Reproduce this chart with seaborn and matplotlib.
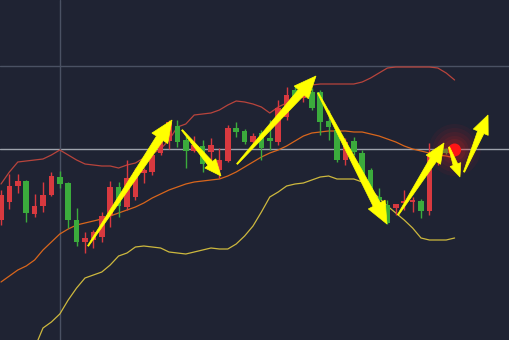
import numpy as np
import pandas as pd
import matplotlib
matplotlib.use("Agg")
import matplotlib.pyplot as plt
from matplotlib.patches import Polygon, Circle
from matplotlib.transforms import IdentityTransform
import seaborn as sns

# ---------------- data ----------------
opens = [120, 138, 154, 159, 126, 134, 145, 163, 157, 120, 98, 100, 103, 125, 153, 133, 143, 167,
         168, 187, 199, 214, 200, 189, 194, 188, 170, 179, 212, 209, 198, 207, 202, 198, 223, 250,
         242, 248, 248, 219, 210, 180, 199, 187, 170, 143, 135, 132, 137, 138, 139, 129, 178, 191]
closes = [145, 154, 159, 127, 134, 145, 164, 156, 120, 98, 102, 108, 124, 153, 134, 162, 168, 170,
          185, 200, 218, 198, 189, 195, 176, 195, 180, 212, 208, 198, 204, 192, 199, 232, 245, 243,
          247, 232, 218, 213, 180, 198, 188, 163, 150, 140, 117, 136, 139, 140, 129, 185, 187, 187]
highs = [150, 166, 166, 160, 146, 158, 168, 169, 158, 132, 108, 110, 128, 159, 158, 180, 172, 172,
         188, 202, 220, 220, 204, 204, 200, 202, 192, 215, 218, 211, 207, 210, 220, 240, 253, 255,
         255, 252, 250, 230, 212, 202, 203, 190, 172, 152, 140, 136, 150, 143, 141, 197, 190, 192]
lows = [115, 131, 147, 118, 123, 128, 144, 152, 112, 94, 87, 92, 98, 113, 123, 130, 140, 157,
        165, 185, 191, 193, 172, 188, 168, 180, 162, 178, 203, 196, 195, 180, 190, 195, 220, 240,
        238, 230, 205, 200, 178, 175, 185, 160, 145, 135, 116, 125, 130, 128, 122, 125, 175, 186]

upper = [156, 168, 178, 179, 180, 181, 185, 190, 185, 180, 176, 175, 174, 174, 172, 175, 177, 182,
         186, 191, 200, 213, 216, 225, 226, 227, 230, 235, 239, 238, 236, 233, 227, 233, 237, 245,
         253, 255, 256, 256, 256, 256, 256, 258, 262, 267, 272, 273, 273, 273, 273, 273, 272, 267, 260]
middle = [58, 64, 70, 74, 80, 90, 98, 106, 111, 115, 117, 119, 121, 124, 127, 130, 133, 137,
          142, 146, 150, 153, 156, 158, 159, 160, 161, 164, 168, 173, 178, 183, 187, 190, 194, 199,
          204, 207, 208, 209, 209, 209, 208, 208, 206, 204, 201, 198, 194, 191, 189, 187, 185, 184, 182]
lower = [-80, -65, -50, -32, -8, 12, 18, 26, 40, 52, 62, 65, 68, 75, 84, 87, 93, 94,
         93, 92, 88, 87, 86, 88, 90, 92, 91, 91, 96, 104, 114, 128, 143, 148, 154, 156,
         157, 160, 163, 164, 161, 161, 161, 158, 150, 142, 134, 127, 120, 112, 102, 100, 100, 100, 102]

last_price = 190          # red marker on the latest bar
grid_levels = [274, 191]  # horizontal reference lines
cross_bar = 7             # vertical crosshair bar

# arrow annotations: (tail_bar, tail_value, tip_bar, tip_value, size)
arrows = [
    (10.36, 94, 20.36, 220, 1.0),
    (21.55, 210, 26.19, 164, 0.75),
    (28.10, 176, 37.50, 264, 1.0),
    (37.74, 247, 45.95, 116, 1.0),
    (47.26, 125, 52.74, 197, 0.9),
    (53.33, 193, 54.64, 163, 0.6),
    (55.12, 168, 57.98, 225, 0.85),
]

# ---------------- style ----------------
BG = "#1f2333"
sns.set_theme(style="dark", rc={"axes.facecolor": BG, "figure.facecolor": BG})

fig = plt.figure(figsize=(5.1, 3.4), dpi=100)
ax = fig.add_axes([0, 0, 1, 1])
ax.set_facecolor(BG)
ax.set_xlim(-1 / 8.4, 509 / 8.4)
ax.set_ylim(0, 340)
ax.set_axis_off()

# reference lines
ax.axhline(grid_levels[0], color="#4a5163", lw=1.0, zorder=1)
ax.axhline(grid_levels[1], color="#9ea3ad", lw=1.0, zorder=1)
ax.axvline(cross_bar, color="#4a5163", lw=1.0, zorder=1)

# Bollinger bands
n_band = len(upper)
bands = pd.DataFrame({
    "bar": np.tile(np.arange(n_band), 3),
    "value": upper + middle + lower,
    "band": ["upper"] * n_band + ["middle"] * n_band + ["lower"] * n_band,
})
sns.lineplot(data=bands, x="bar", y="value", hue="band",
             palette={"upper": "#b8443c", "middle": "#d9661c", "lower": "#cdb83e"},
             linewidth=0.9, legend=False, ax=ax, zorder=2)

# candlesticks
n = len(opens)
idx = np.arange(n)
colors = ["#d8393f" if c >= o else "#3bab3c" for o, c in zip(opens, closes)]
ax.vlines(idx, lows, highs, colors=colors, lw=1.0, zorder=3)
bottoms = np.minimum(opens, closes)
heights = np.maximum(np.abs(np.array(closes) - np.array(opens)), 1.2)
ax.bar(idx, heights, bottom=bottoms, width=0.66, color=colors, linewidth=0, zorder=4)

fig.canvas.draw()

# glow + red marker on the latest bar
cx, cy = ax.transData.transform((n, last_price))
for r, a in [(26, 0.05), (22, 0.06), (18, 0.07), (14, 0.08), (11, 0.10)]:
    ax.add_patch(Circle((cx, cy), r, transform=IdentityTransform(),
                        facecolor="#ff2020", edgecolor="none", alpha=a, zorder=5))
ax.add_patch(Circle((cx, cy), 6.5, transform=IdentityTransform(),
                    facecolor="#ff1515", edgecolor="none", zorder=6))

# tapered yellow arrows (built in display pixels)
def draw_arrow(t_bar, t_val, h_bar, h_val, s):
    p0 = np.array(ax.transData.transform((t_bar, t_val)))
    p1 = np.array(ax.transData.transform((h_bar, h_val)))
    d = p1 - p0
    L = np.hypot(*d)
    u = d / L
    nrm = np.array([-u[1], u[0]])
    head_len = 22 * s
    head_w = 19 * s
    shaft_w = 8 * s
    tail_w = 1.2
    base = p1 - u * head_len
    pts = [
        p0 + nrm * tail_w / 2,
        base + nrm * shaft_w / 2,
        base + nrm * head_w / 2,
        p1,
        base - nrm * head_w / 2,
        base - nrm * shaft_w / 2,
        p0 - nrm * tail_w / 2,
    ]
    ax.add_patch(Polygon(pts, closed=True, transform=IdentityTransform(),
                         facecolor="#ffff00", edgecolor="#ffff00", lw=0.5, zorder=8))

for a in arrows:
    draw_arrow(*a)

fig.savefig("out.png", dpi=100, facecolor=BG)
